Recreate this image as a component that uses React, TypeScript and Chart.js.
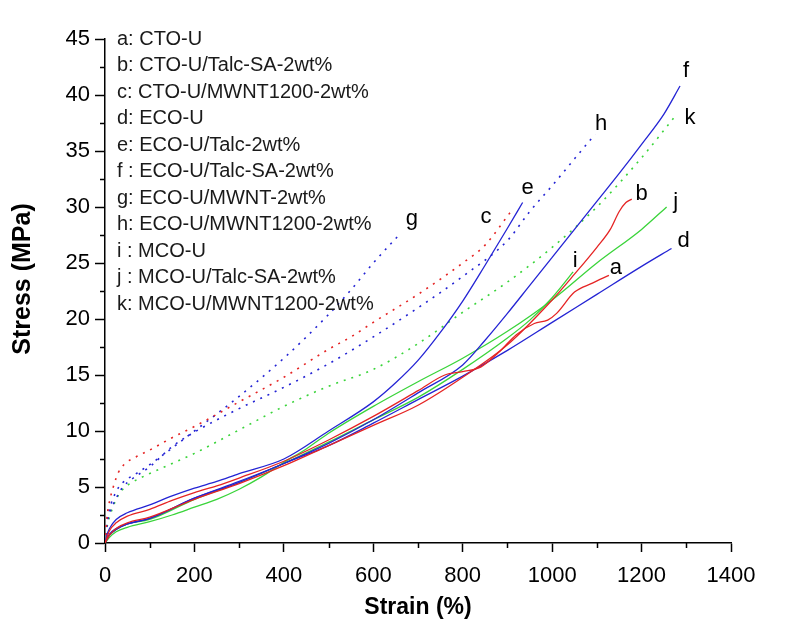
import React, { useEffect, useRef } from 'react';
import { Chart, registerables } from 'chart.js';

Chart.register(...registerables);

// ---------- data ----------
const aStrain = [0, 10, 25, 50, 100, 150, 200, 250, 300, 400, 500, 600, 700, 760, 800, 840, 880, 920, 960, 990, 1010, 1050, 1090, 1127];
const aStress = [0, 1.1, 1.8, 2.4, 3.0, 3.8, 4.5, 5.1, 5.8, 7.3, 9.2, 11.3, 13.6, 15.0, 15.3, 15.7, 17.0, 18.6, 19.6, 19.9, 20.5, 22.4, 23.2, 23.9];

const bStrain = [0, 10, 25, 50, 100, 200, 300, 400, 500, 600, 700, 800, 900, 1000, 1050, 1100, 1130, 1150, 1165, 1178];
const bStress = [0, 0.7, 1.3, 1.8, 2.3, 3.9, 5.3, 6.9, 8.7, 10.5, 12.3, 14.8, 17.7, 21.7, 24.0, 26.4, 28.0, 29.6, 30.4, 30.7];

const cStrain = [0, 5, 10, 20, 30, 45, 70, 100, 150, 200, 300, 400, 500, 550, 600, 700, 800, 850, 906];
const cStress = [0, 2.5, 3.7, 5.2, 6.3, 7.1, 7.7, 8.3, 9.4, 10.4, 12.6, 14.8, 17.3, 18.4, 19.7, 22.2, 25.0, 26.6, 29.5];

const dStrain = [0, 10, 25, 50, 100, 200, 300, 400, 500, 600, 700, 800, 900, 1000, 1100, 1200, 1267];
const dStress = [0, 0.8, 1.3, 1.7, 2.2, 4.0, 5.4, 7.1, 8.7, 10.7, 12.8, 14.9, 17.2, 19.7, 22.2, 24.7, 26.3];

const eStrain = [0, 5, 10, 25, 50, 100, 150, 200, 250, 300, 400, 500, 600, 650, 700, 750, 800, 850, 900, 934];
const eStress = [0, 0.8, 1.3, 2.1, 2.7, 3.4, 4.2, 4.9, 5.5, 6.2, 7.5, 10.0, 12.6, 14.3, 16.3, 18.8, 21.6, 24.8, 28.1, 30.4];

const fStrain = [0, 10, 25, 50, 100, 200, 300, 400, 500, 600, 700, 800, 850, 900, 950, 1000, 1050, 1100, 1150, 1200, 1250, 1286];
const fStress = [0, 0.7, 1.2, 1.7, 2.2, 4.0, 5.5, 7.1, 8.9, 11.0, 13.4, 15.9, 18.1, 20.5, 23.0, 25.5, 28.0, 30.5, 33.0, 35.6, 38.3, 40.8];

const gStrain = [0, 5, 10, 25, 40, 70, 100, 200, 300, 400, 500, 550, 600, 655];
const gStress = [0, 2.0, 3.0, 4.6, 5.4, 6.2, 7.0, 10.0, 13.1, 16.5, 20.4, 22.6, 25.0, 27.4];

const hStrain = [0, 5, 10, 25, 40, 60, 100, 150, 200, 300, 400, 500, 600, 700, 800, 900, 950, 1000, 1050, 1096];
const hStress = [0, 1.8, 2.6, 4.0, 5.0, 5.7, 6.8, 8.6, 9.9, 12.0, 13.9, 16.0, 18.4, 21.0, 23.8, 27.0, 29.6, 31.9, 34.3, 36.5];

const iStrain = [0, 10, 25, 50, 100, 200, 300, 400, 500, 600, 700, 800, 900, 950, 1000, 1047];
const iStress = [0, 0.7, 1.2, 1.7, 2.1, 3.9, 5.4, 7.1, 9.0, 11.0, 13.0, 15.5, 18.3, 19.9, 21.9, 24.2];

const jStrain = [0, 10, 25, 50, 100, 150, 200, 250, 300, 350, 400, 450, 500, 600, 700, 800, 900, 1000, 1100, 1200, 1256];
const jStress = [0, 0.5, 1.0, 1.4, 1.9, 2.5, 3.2, 3.9, 4.8, 5.9, 7.2, 8.4, 9.8, 12.2, 14.4, 16.5, 18.9, 21.7, 25.0, 28.0, 30.0];

const kStrain = [0, 5, 10, 25, 40, 60, 100, 200, 300, 400, 500, 600, 700, 800, 900, 1000, 1100, 1200, 1279];
const kStress = [0, 1.5, 2.3, 3.9, 4.8, 5.4, 6.2, 8.0, 10.1, 12.2, 14.0, 15.5, 17.8, 20.6, 23.3, 26.4, 30.0, 34.4, 38.3];

const seriesKeys = ['a', 'b', 'c', 'd', 'e', 'f', 'g', 'h', 'i', 'j', 'k'];
const legendLabels = [
  'a: CTO-U',
  'b: CTO-U/Talc-SA-2wt%',
  'c: CTO-U/MWNT1200-2wt%',
  'd: ECO-U',
  'e: ECO-U/Talc-2wt%',
  'f : ECO-U/Talc-SA-2wt%',
  'g: ECO-U/MWNT-2wt%',
  'h: ECO-U/MWNT1200-2wt%',
  'i : MCO-U',
  'j : MCO-U/Talc-SA-2wt%',
  'k: MCO-U/MWNT1200-2wt%',
];
const xTickValues = [0, 200, 400, 600, 800, 1000, 1200, 1400];
const yTickValues = [0, 5, 10, 15, 20, 25, 30, 35, 40, 45];
const xTitle = 'Strain (%)';
const yTitle = 'Stress (MPa)';

// ---------- styles ----------
const FONT = '"Liberation Sans", Arial, Helvetica, sans-serif';
const RED = '#e52424';
const BLUE = '#2424d4';
const GREEN = '#3ad43a';

const strainData = [aStrain, bStrain, cStrain, dStrain, eStrain, fStrain, gStrain, hStrain, iStrain, jStrain, kStrain];
const stressData = [aStress, bStress, cStress, dStress, eStress, fStress, gStress, hStress, iStress, jStress, kStress];
const seriesColors = [RED, RED, RED, BLUE, BLUE, BLUE, BLUE, BLUE, GREEN, GREEN, GREEN];
const seriesDotted = [false, false, true, false, false, false, true, true, false, false, true];
// pixel offset of each end letter from the last point of its curve
const labelOffsets: [number, number][] = [
  [7, -7], [10, -5], [-24, 4], [12, -8], [5, -15], [6, -15], [14, -17], [6, -10], [2, -11], [9, -5], [13, 4],
];

const annotationPlugin = {
  id: 'annotations',
  afterDraw(chart: any) {
    const ctx = chart.ctx;
    const xs = chart.scales.x;
    const ys = chart.scales.y;
    ctx.save();
    // minor ticks
    ctx.strokeStyle = '#000';
    ctx.lineWidth = 1.5;
    ctx.beginPath();
    for (let v = 2.5; v < 45; v += 5) {
      const py = Math.round(ys.getPixelForValue(v)) + 0.5;
      ctx.moveTo(xs.left - 5, py);
      ctx.lineTo(xs.left, py);
    }
    for (let v = 100; v < 1400; v += 200) {
      const px = Math.round(xs.getPixelForValue(v)) + 0.5;
      ctx.moveTo(px, ys.bottom);
      ctx.lineTo(px, ys.bottom + 5);
    }
    ctx.stroke();

    // axis titles
    ctx.fillStyle = '#000';
    ctx.textAlign = 'center';
    ctx.textBaseline = 'middle';
    ctx.font = `bold 23px ${FONT}`;
    ctx.fillText(xTitle, (xs.left + xs.right) / 2, 608);
    ctx.save();
    ctx.translate(23, 279);
    ctx.rotate(-Math.PI / 2);
    ctx.font = `bold 25px ${FONT}`;
    ctx.fillText(yTitle, 0, 0);
    ctx.restore();

    // legend text list
    ctx.textAlign = 'left';
    ctx.fillStyle = '#1a1a1a';
    ctx.font = `20px ${FONT}`;
    legendLabels.forEach((t, i) => {
      ctx.fillText(t, 117, 39 + i * 26.5);
    });

    // end letters
    ctx.textAlign = 'center';
    ctx.fillStyle = '#000';
    ctx.font = `22px ${FONT}`;
    seriesKeys.forEach((k, i) => {
      const xsArr = strainData[i];
      const ysArr = stressData[i];
      const px = xs.getPixelForValue(xsArr[xsArr.length - 1]);
      const py = ys.getPixelForValue(ysArr[ysArr.length - 1]);
      ctx.fillText(k, px + labelOffsets[i][0], py + labelOffsets[i][1]);
    });
    ctx.restore();
  },
};

export default function App() {
  const ref = useRef<HTMLCanvasElement | null>(null);

  useEffect(() => {
    if (!ref.current) return;
    const datasets = seriesKeys.map((k, i) => ({
      label: k,
      data: strainData[i].map((x, j) => ({ x, y: stressData[i][j] })),
      borderColor: seriesColors[i],
      backgroundColor: seriesColors[i],
      borderWidth: seriesDotted[i] ? 1.6 : 1.3,
      borderDash: seriesDotted[i] ? [2, 6] : [],
      pointRadius: 0,
      fill: false,
      cubicInterpolationMode: 'monotone' as const,
    }));

    const axisCommon = {
      type: 'linear' as const,
      grid: {
        display: true,
        drawOnChartArea: false,
        drawTicks: true,
        tickColor: '#000',
        tickWidth: 1.5,
      },
      border: { display: true, color: '#000', width: 1.5 },
    };

    const chart = new Chart(ref.current, {
      type: 'line',
      data: { datasets },
      plugins: [annotationPlugin],
      options: {
        animation: false,
        responsive: false,
        maintainAspectRatio: false,
        layout: { padding: { left: 0, right: 61, top: 39, bottom: 0 } },
        plugins: {
          legend: { display: false },
          tooltip: { enabled: false },
          title: { display: false },
        },
        scales: {
          x: {
            ...axisCommon,
            min: 0,
            max: 1400,
            grid: { ...axisCommon.grid, tickLength: 9 },
            afterBuildTicks: (scale: any) => {
              scale.ticks = xTickValues.map((v) => ({ value: v }));
            },
            ticks: {
              font: { family: FONT, size: 22 },
              color: '#000',
              padding: 11,
              maxRotation: 0,
              autoSkip: false,
              callback: (v: any) => String(v),
            },
            afterFit: (scale: any) => {
              scale.height = 101;
            },
          },
          y: {
            ...axisCommon,
            min: 0,
            max: 45,
            grid: { ...axisCommon.grid, tickLength: 10 },
            afterBuildTicks: (scale: any) => {
              scale.ticks = yTickValues.map((v) => ({ value: v }));
            },
            ticks: {
              font: { family: FONT, size: 22 },
              color: '#000',
              padding: 5,
              autoSkip: false,
              callback: (v: any) => String(v),
            },
            afterFit: (scale: any) => {
              scale.width = 105;
            },
          },
        },
      },
    });
    return () => chart.destroy();
  }, []);

  return (
    <div style={{ position: 'absolute', left: 0, top: 0, width: 792, height: 644, background: '#fff' }}>
      <canvas ref={ref} width={792} height={644} style={{ width: 792, height: 644, display: 'block' }} />
    </div>
  );
}
